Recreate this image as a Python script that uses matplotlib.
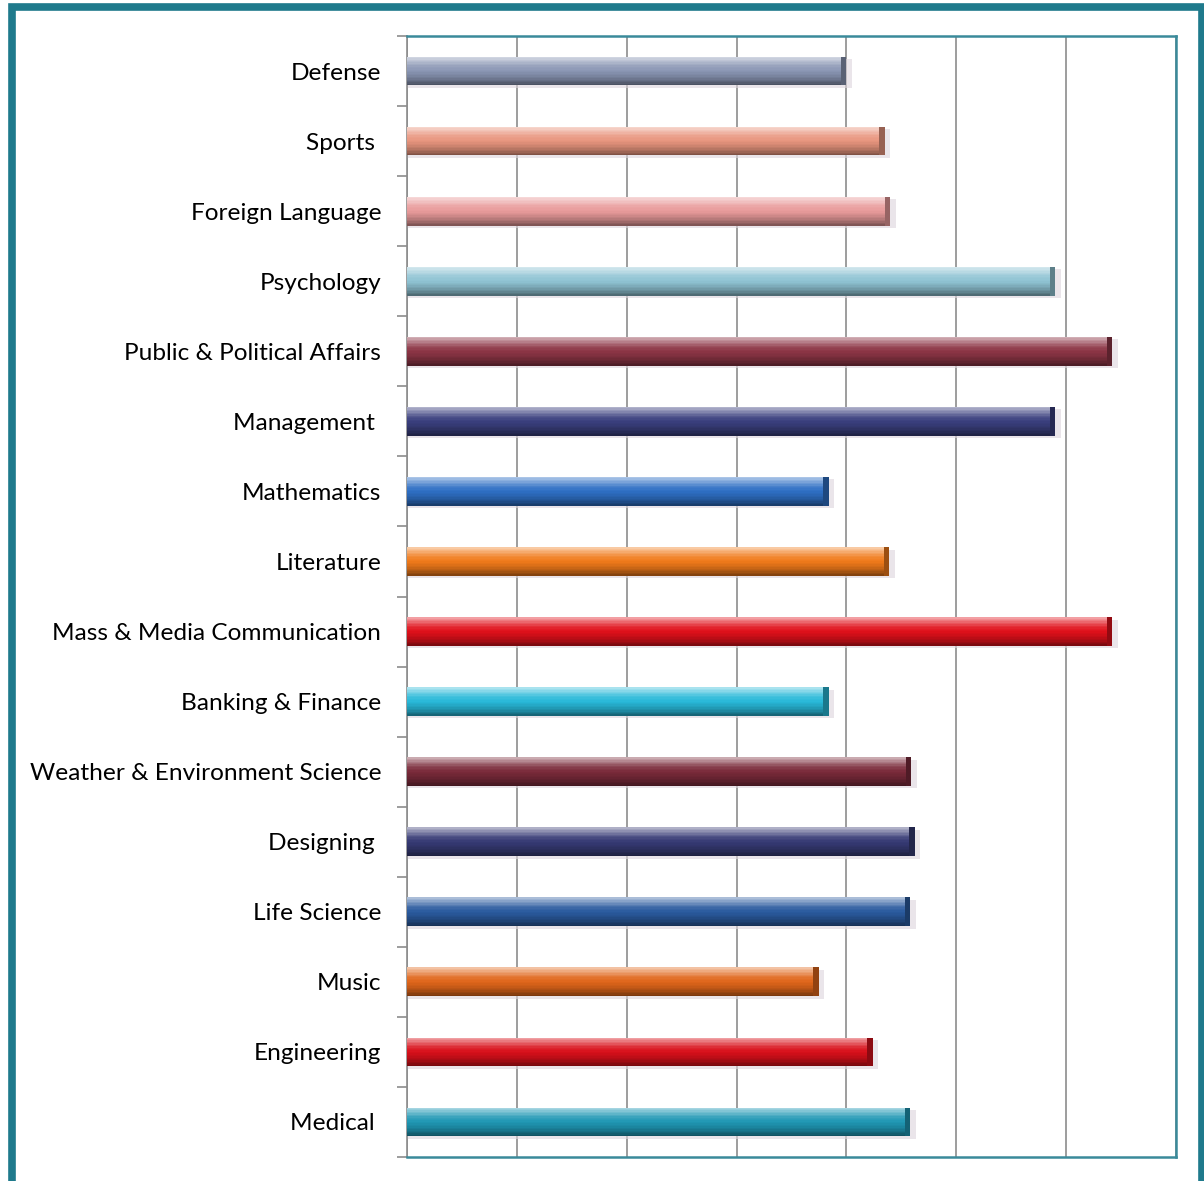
import matplotlib.pyplot as plt
import matplotlib.colors as mcolors
import numpy as np
from matplotlib.patches import Rectangle

# categories top to bottom as in the picture
categories = ["Defense", "Sports ", "Foreign Language", "Psychology",
              "Public & Political Affairs", "Management ", "Mathematics",
              "Literature", "Mass & Media Communication", "Banking & Finance",
              "Weather & Environment Science", "Designing ", "Life Science",
              "Music", "Engineering", "Medical "]
values = [4.0, 4.35, 4.4, 5.9, 6.42, 5.9, 3.84, 4.39, 6.42, 3.84,
          4.59, 4.62, 4.58, 3.75, 4.24, 4.58]
colors = ["#8a96b4", "#e8957e", "#e89a9a", "#8fc3d3", "#8c3545", "#3a3f7e",
          "#2e6fc4", "#f07a1a", "#e0101a", "#28b8d8", "#7a2a3a", "#363a74",
          "#2a5a9e", "#e0661a", "#d8101a", "#1f97b4"]

plt.rcParams['font.family'] = ['Lato', 'DejaVu Sans']

fig = plt.figure(figsize=(12.04, 11.81), dpi=100)
ax = fig.add_axes([407 / 1204, 1 - 1157 / 1181, (1176 - 407) / 1204, (1157 - 36) / 1181])

n = len(categories)
ypos = np.arange(n)[::-1]
h = 0.41

# shaded strips to fake the glossy cylinder look (top -> bottom)
nstrip = 20
shade_pts = [0.6, 0.35, 0.1, 0.0, -0.1, -0.25, -0.45]
shades = np.interp(np.linspace(0, 1, nstrip), np.linspace(0, 1, len(shade_pts)), shade_pts)
strip = h / nstrip
for y, v, c in zip(ypos, values, colors):
    base = np.array(mcolors.to_rgb(c))
    # soft shadow under the bar
    ax.barh(y - 0.035, v + 0.05, height=h, left=0, color="#ddd5dc", alpha=0.6, zorder=2)
    for k, s in enumerate(shades):
        if s >= 0:
            col = base + (1 - base) * s
        else:
            col = base * (1 + s)
        top = y + h / 2 - k * strip
        ax.barh(top - strip / 2, v, height=strip * 1.05, left=0, color=col, linewidth=0, zorder=3)
    ax.add_patch(Rectangle((v - 0.05, y - h / 2), 0.05, h, color=base * 0.65, zorder=4, linewidth=0))

ax.set_xlim(0, 7)
ax.set_ylim(-0.5, n - 0.5)
ax.set_xticks(np.arange(0, 8))
ax.set_xticklabels([])
ax.tick_params(axis='x', length=0)
ax.grid(axis='x', color="#8c8c8c", linewidth=1.2, zorder=1)
ax.set_axisbelow(True)

ax.set_yticks(ypos)
ax.set_yticklabels(categories, fontsize=17.6)
ax.set_yticks(np.arange(-0.5, n, 1), minor=True)
ax.tick_params(axis='y', which='major', length=0, pad=18.5)
ax.tick_params(axis='y', which='minor', length=7, color="#8c8c8c", width=1.2)

for side in ['top', 'right', 'bottom']:
    ax.spines[side].set_color("#3a8a9a")
    ax.spines[side].set_linewidth(1.8)
ax.spines['left'].set_color("#8c8c8c")
ax.spines['left'].set_linewidth(1.2)

# outer frame
fig.patches.append(Rectangle((11.5 / 1204, -0.01), (1202 - 11.5) / 1204, 1 - 7 / 1181 + 0.01,
                             transform=fig.transFigure, fill=False,
                             edgecolor="#1f7a8c", linewidth=5.5))

fig.savefig("out.png", dpi=100)
